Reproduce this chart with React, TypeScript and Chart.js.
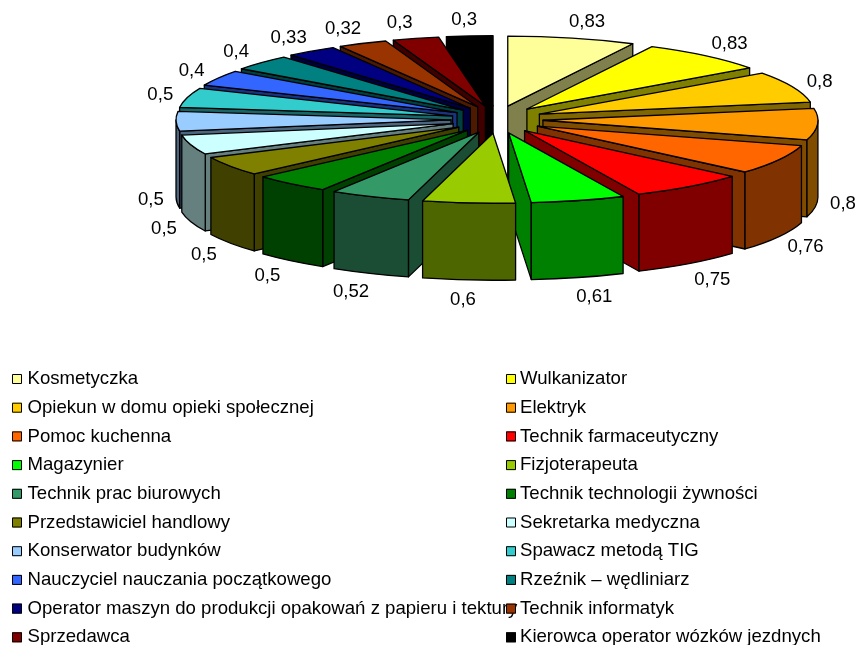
import React, { useEffect, useRef } from "react";
import { Chart, registerables } from "chart.js";

Chart.register(...registerables);

const categories = [
  "Kosmetyczka", "Wulkanizator", "Opiekun w domu opieki społecznej", "Elektryk",
  "Pomoc kuchenna", "Technik farmaceutyczny", "Magazynier", "Fizjoterapeuta",
  "Technik prac biurowych", "Technik technologii żywności", "Przedstawiciel handlowy", "Sekretarka medyczna",
  "Konserwator budynków", "Spawacz metodą TIG", "Nauczyciel nauczania początkowego", "Rzeźnik – wędliniarz",
  "Operator maszyn do produkcji opakowań z papieru i tektury", "Technik informatyk", "Sprzedawca", "Kierowca operator wózków jezdnych",
];
const values = [0.83, 0.83, 0.8, 0.8, 0.76, 0.75, 0.61, 0.6, 0.52, 0.5, 0.5, 0.5, 0.5, 0.5, 0.4, 0.4, 0.33, 0.32, 0.3, 0.3];
const tickText = values.map((v) => String(v).replace(".", ","));
const topColors = [
  "#FFFF99", "#FFFF00", "#FFCC00", "#FF9900", "#FF6600", "#FF0000", "#00FF00", "#99CC00", "#339966", "#008000",
  "#808000", "#CCFFFF", "#99CCFF", "#33CCCC", "#3366FF", "#008080", "#000080", "#993300", "#800000", "#000000",
];

const RADIUS = 275;
const SQUASH = 70 / 275;
const CENTER_Y = 119.5;
const EXPLODE = 46;
const EXPLODE_Y = 0.3;
const DEPTH = 77;
const FONT = '18.6px "Liberation Sans", Arial, sans-serif';
const dark = (hex: string) => {
  const n = parseInt(hex.slice(1), 16);
  const f = (v: number) => Math.round(v * 0.5);
  return `rgb(${f((n >> 16) & 255)},${f((n >> 8) & 255)},${f(n & 255)})`;
};

const pie3d = {
  id: "pie3d",
  beforeDatasetsDraw(chart: any) {
    const { ctx } = chart;
    const arcs = chart.getDatasetMeta(0).data.map((arc: any, i: number) => ({ arc, i }));
    const mid = (a: any) => (a.startAngle + a.endAngle) / 2;
    arcs.sort((p: any, q: any) => Math.sin(mid(p.arc)) - Math.sin(mid(q.arc)));
    ctx.lineJoin = "round";
    for (const { arc, i } of arcs) {
      const m = mid(arc);
      const ax = arc.x + EXPLODE * Math.cos(m);
      const ay = CENTER_Y + EXPLODE * EXPLODE_Y * Math.sin(m);
      const r = arc.outerRadius;
      const ry = r * SQUASH;
      const rim = (a: number) => [ax + r * Math.cos(a), ay + ry * Math.sin(a)];
      const a0 = arc.startAngle;
      const a1 = arc.endAngle;
      ctx.save();
      ctx.fillStyle = dark(topColors[i]);
      ctx.strokeStyle = "#000";
      ctx.lineWidth = 1.3;
      const wall = (a: number) => {
        const [x, y] = rim(a);
        ctx.beginPath();
        ctx.moveTo(ax, ay);
        ctx.lineTo(x, y);
        ctx.lineTo(x, y + DEPTH);
        ctx.lineTo(ax, ay + DEPTH);
        ctx.closePath();
        ctx.fill();
        ctx.stroke();
      };
      if (Math.cos(a0) < -1e-6) wall(a0);
      if (Math.cos(a1) > 1e-6) wall(a1);
      const f0 = Math.max(a0, 0);
      const f1 = Math.min(a1, Math.PI);
      if (f1 > f0) {
        ctx.beginPath();
        ctx.ellipse(ax, ay, r, ry, 0, f0, f1);
        ctx.ellipse(ax, ay + DEPTH, r, ry, 0, f1, f0, true);
        ctx.closePath();
        ctx.fill();
        ctx.stroke();
      }
      ctx.restore();

      ctx.save();
      ctx.translate(ax - arc.x, ay);
      ctx.scale(1, SQUASH);
      ctx.translate(0, -arc.y);
      arc.draw(ctx);
      ctx.restore();

      ctx.save();
      ctx.strokeStyle = "#000";
      ctx.lineWidth = 1.3;
      ctx.beginPath();
      ctx.moveTo(ax, ay);
      ctx.ellipse(ax, ay, r, ry, 0, a0, a1);
      ctx.closePath();
      ctx.stroke();
      ctx.restore();
    }
    return false;
  },
  afterDraw(chart: any) {
    const { ctx } = chart;
    ctx.save();
    ctx.font = FONT;
    ctx.fillStyle = "#000";
    ctx.textBaseline = "middle";
    ctx.textAlign = "center";
    chart.getDatasetMeta(0).data.forEach((arc: any, i: number) => {
      const m = (arc.startAngle + arc.endAngle) / 2;
      const c = Math.cos(m);
      const s = Math.sin(m);
      const side = Math.max(-1, Math.min(1, c * 4)) * Math.abs(s) * 10;
      const x = arc.x + (EXPLODE + RADIUS + 25) * c + side;
      const y = CENTER_Y + 1.5 + (EXPLODE * EXPLODE_Y + RADIUS * SQUASH + 18) * s + (s > 0.01 ? DEPTH : 0);
      ctx.fillText(tickText[i], x, y);
    });
    ctx.textAlign = "left";
    categories.forEach((label, i) => {
      const col = i % 2;
      const row = Math.floor(i / 2);
      const y = 379 + row * 28.7;
      const sx = col === 0 ? 12 : 506;
      ctx.fillStyle = topColors[i];
      ctx.fillRect(sx, y - 5, 10, 10);
      ctx.strokeStyle = "#000";
      ctx.lineWidth = 1;
      ctx.strokeRect(sx + 0.5, y - 4.5, 9, 9);
      ctx.fillStyle = "#000";
      ctx.fillText(label, col === 0 ? sx + 15.5 : sx + 14, y);
    });
    ctx.restore();
  },
};

export default function App() {
  const ref = useRef<HTMLCanvasElement>(null);
  useEffect(() => {
    const chart = new Chart(ref.current!, {
      type: "pie",
      data: {
        labels: categories,
        datasets: [{ data: values, backgroundColor: topColors, borderWidth: 0, clip: false } as any],
      },
      options: {
        animation: false,
        responsive: false,
        radius: RADIUS,
        layout: { padding: { left: 137 } },
        events: [],
        plugins: { legend: { display: false }, tooltip: { enabled: false } },
      } as any,
      plugins: [pie3d as any],
    });
    return () => chart.destroy();
  }, []);
  return (
    <canvas
      ref={ref}
      width={857}
      height={645}
      style={{ position: "absolute", left: 0, top: 0, width: 857, height: 645, display: "block" }}
    />
  );
}
